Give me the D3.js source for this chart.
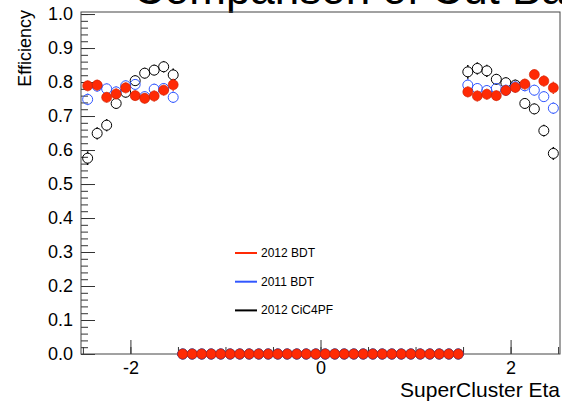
<!DOCTYPE html>
<html>
<head>
<meta charset="utf-8">
<script src="https://cdn.jsdelivr.net/npm/d3@7"></script>
<style>
  body { margin: 0; background: #fff; }
  svg { display: block; font-family: "Liberation Sans", Arial, sans-serif; }
</style>
</head>
<body>
<svg id="mainsvg" width="562" height="405"></svg>
<script>
// data (eta bin centres, efficiency per series)
const etaBins = [-2.45, -2.35, -2.25, -2.15, -2.05, -1.95, -1.85, -1.75, -1.65, -1.55,
  -1.45, -1.35, -1.25, -1.15, -1.05, -0.95, -0.85, -0.75, -0.65, -0.55,
  -0.45, -0.35, -0.25, -0.15, -0.05, 0.05, 0.15, 0.25, 0.35, 0.45,
  0.55, 0.65, 0.75, 0.85, 0.95, 1.05, 1.15, 1.25, 1.35, 1.45,
  1.55, 1.65, 1.75, 1.85, 1.95, 2.05, 2.15, 2.25, 2.35, 2.45];

const bdt2012 = [0.789, 0.791, 0.755, 0.765, 0.783, 0.760, 0.752, 0.759, 0.776, 0.792,
  0, 0, 0, 0, 0, 0, 0, 0, 0, 0, 0, 0, 0, 0, 0, 0, 0, 0, 0, 0,
  0, 0, 0, 0, 0, 0, 0, 0, 0, 0,
  0.771, 0.759, 0.764, 0.760, 0.775, 0.784, 0.794, 0.822, 0.803, 0.783];
const bdt2011 = [0.749, 0.788, 0.780, 0.771, 0.789, 0.793, 0.757, 0.779, 0.781, 0.755,
  0, 0, 0, 0, 0, 0, 0, 0, 0, 0, 0, 0, 0, 0, 0, 0, 0, 0, 0, 0,
  0, 0, 0, 0, 0, 0, 0, 0, 0, 0,
  0.791, 0.781, 0.775, 0.781, 0.776, 0.786, 0.789, 0.776, 0.757, 0.723];
const cic2012 = [0.576, 0.649, 0.673, 0.737, 0.770, 0.804, 0.826, 0.835, 0.845, 0.821,
  0, 0, 0, 0, 0, 0, 0, 0, 0, 0, 0, 0, 0, 0, 0, 0, 0, 0, 0, 0,
  0, 0, 0, 0, 0, 0, 0, 0, 0, 0,
  0.830, 0.840, 0.833, 0.808, 0.798, 0.791, 0.737, 0.721, 0.657, 0.590];

// statistical errors (endcap bins only)
const errBdt2012 = [0.016, 0.016, 0.016, 0.016, 0.016, 0.016, 0.016, 0.016, 0.016, 0.018];
const errBdt2011 = [0.017, 0.016, 0.016, 0.016, 0.016, 0.016, 0.016, 0.016, 0.016, 0.017];
const errCic2012 = [0.020, 0.018, 0.018, 0.016, 0.016, 0.016, 0.016, 0.016, 0.017, 0.019];

const yTicks = [0, 0.1, 0.2, 0.3, 0.4, 0.5, 0.6, 0.7, 0.8, 0.9, 1.0];
const xTicks = [-2, 0, 2];
const legendNames = ['2012 BDT', '2011 BDT', '2012 CiC4PF'];

const svg = d3.select('#mainsvg');
const frame = {left: 81, right: 560, top: 12, bottom: 354};

const xScale = d3.scaleLinear().domain([-2.52, 2.52]).range([frame.left, frame.right]);
const yScale = d3.scaleLinear().domain([0, 1.006]).range([frame.bottom, frame.top]);

// title, cut off at the top like in the original
svg.append('text')
  .attr('x', 133).attr('y', 4)
  .attr('font-size', '44px')
  .attr('fill', '#000')
  .text('Comparison of Cut Based ID');

// axes
const g = svg.append('g');

const yMinor = g.append('g').attr('transform', `translate(${frame.left},0)`)
  .call(d3.axisLeft(yScale).tickValues(d3.range(0, 1.001, 0.02)).tickSize(-7).tickFormat(''));
const yAxis = g.append('g').attr('transform', `translate(${frame.left},0)`)
  .call(d3.axisLeft(yScale).tickValues(yTicks).tickSize(-14).tickPadding(8).tickFormat(d3.format('.1f')));

const xMinor = g.append('g').attr('transform', `translate(0,${frame.bottom})`)
  .call(d3.axisBottom(xScale).tickValues(d3.range(-2.5, 2.51, 0.5)).tickSize(-7).tickFormat(''));
const xAxis = g.append('g').attr('transform', `translate(0,${frame.bottom})`)
  .call(d3.axisBottom(xScale).tickValues(xTicks).tickSize(-14).tickPadding(7).tickFormat(d => String(d)));

[yMinor, yAxis, xMinor, xAxis].forEach(a => {
  a.select('.domain').remove();
  a.selectAll('line').attr('stroke', '#333');
  a.selectAll('text').attr('font-size', '18px').attr('fill', '#000')
    .attr('font-family', '"Liberation Sans", Arial, sans-serif');
});

g.append('rect')
  .attr('x', frame.left).attr('y', frame.top)
  .attr('width', frame.right - frame.left).attr('height', frame.bottom - frame.top)
  .attr('fill', 'none').attr('stroke', '#444').attr('stroke-width', 1);

// axis titles
svg.append('text')
  .attr('transform', 'rotate(-90)')
  .attr('x', -10).attr('y', 31)
  .attr('text-anchor', 'end')
  .attr('font-size', '18px')
  .text('Efficiency');

svg.append('text')
  .attr('x', 560).attr('y', 397)
  .attr('text-anchor', 'end')
  .attr('font-size', '21px')
  .text('SuperCluster Eta');

// series
const r = 5;
const series = [
  {name: legendNames[2], values: cic2012, errs: errCic2012, color: '#000', filled: false},
  {name: legendNames[1], values: bdt2011, errs: errBdt2011, color: '#3157ff', filled: false},
  {name: legendNames[0], values: bdt2012, errs: errBdt2012, color: '#ff2a05', filled: true}
];

series.forEach(s => {
  const pts = etaBins.map((eta, i) => {
    const endcap = i < 10 || i >= 40;
    const e = endcap ? s.errs[i < 10 ? i : i - 40] : 0;
    return {eta: eta, v: s.values[i], e: e};
  });
  const sg = svg.append('g');

  // error bars, drawn outside the marker only
  pts.filter(d => yScale(d.v) - yScale(d.v + d.e) > r).forEach(d => {
    const cx = xScale(d.eta), cy = yScale(d.v);
    sg.append('line').attr('x1', cx).attr('x2', cx)
      .attr('y1', yScale(d.v + d.e)).attr('y2', cy - r)
      .attr('stroke', s.color).attr('stroke-width', 1.5);
    sg.append('line').attr('x1', cx).attr('x2', cx)
      .attr('y1', cy + r).attr('y2', yScale(d.v - d.e))
      .attr('stroke', s.color).attr('stroke-width', 1.5);
  });

  sg.selectAll('circle').data(pts).join('circle')
    .attr('cx', d => xScale(d.eta))
    .attr('cy', d => yScale(d.v))
    .attr('r', r)
    .attr('fill', s.filled ? s.color : 'none')
    .attr('stroke', s.filled ? '#c81e00' : s.color)
    .attr('stroke-width', s.filled ? 0.6 : 1);
});

// legend
const legendColors = ['#ff2a05', '#3157ff', '#000'];
const legend = svg.selectAll('.legend').data(legendNames).join('g')
  .attr('class', 'legend')
  .attr('transform', (d, i) => `translate(235,${253 + i * 28.7})`);

legend.append('line')
  .attr('x1', 0).attr('x2', 22)
  .attr('stroke', (d, i) => legendColors[i])
  .attr('stroke-width', 2);

legend.append('text')
  .attr('x', 26).attr('y', 4)
  .attr('font-size', '12px')
  .text(d => d);
</script>
</body>
</html>
